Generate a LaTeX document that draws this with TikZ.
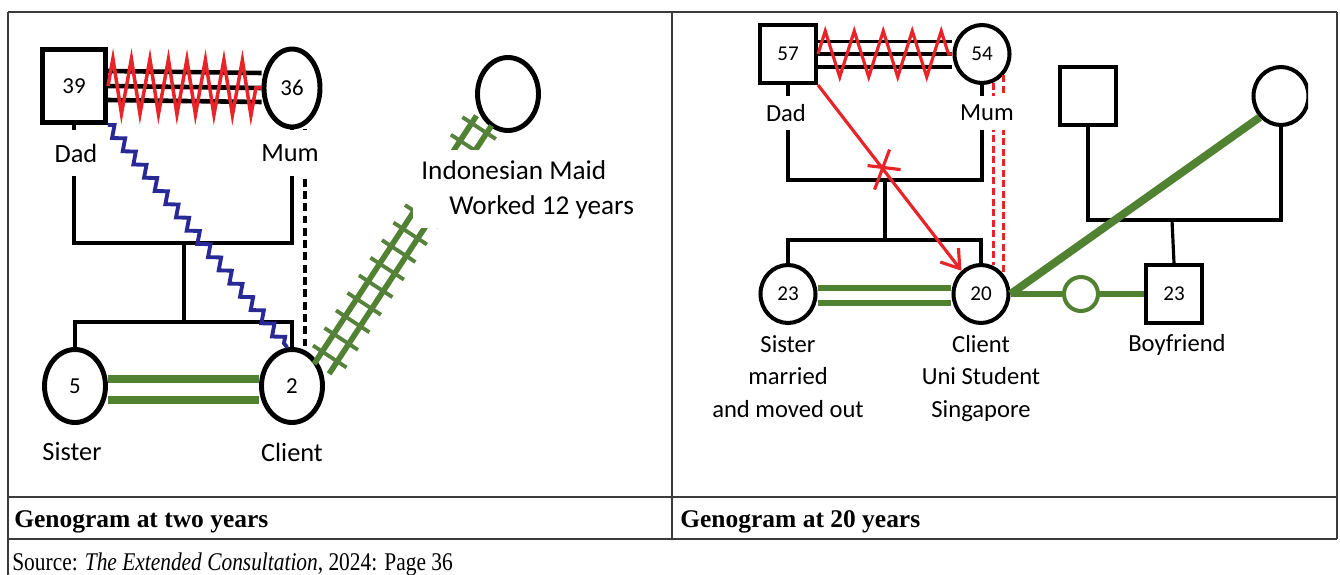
\documentclass[tikz,border=0pt]{standalone}
\usepackage{fontspec}
\setmainfont{Liberation Serif}
\newfontfamily\genofont{Carlito}
\newfontfamily\srcfont[FakeStretch=0.84]{Liberation Serif}
\usetikzlibrary{arrows.meta,shapes.geometric,decorations.pathmorphing,decorations.markings,calc}

\definecolor{genred}{RGB}{232,36,40}
\definecolor{gengreen}{RGB}{80,130,50}
\definecolor{genblue}{RGB}{40,40,150}
\definecolor{rulegray}{RGB}{60,60,60}

\begin{document}
\begin{tikzpicture}[x=0.02cm,y=-0.02cm,
    person/.style={draw,line width=2.8pt,fill=white,inner sep=0pt,
      font=\genofont\fontsize{13}{13}\selectfont},
    maleA/.style={person,rectangle,minimum width=1.26cm,minimum height=1.46cm},
    femA/.style={person,ellipse,minimum width=1.22cm,minimum height=1.46cm},
    maleB/.style={person,rectangle,line width=2.3pt,minimum width=1.12cm,minimum height=1.16cm,
      font=\genofont\fontsize{12}{12}\selectfont},
    femB/.style={person,ellipse,line width=2.3pt,minimum width=1.1cm,minimum height=1.16cm,
      font=\genofont\fontsize{12}{12}\selectfont},
    nameA/.style={fill=white,inner sep=1pt,minimum height=0.92cm,
      font=\genofont\fontsize{15}{18}\selectfont},
    nameB/.style={fill=white,inner sep=1pt,minimum height=0.7cm,align=center,
      font=\genofont\fontsize{14}{18.6}\selectfont},
    kinA/.style={line width=2.6pt},
    kinB/.style={line width=1.8pt},
    conflict/.style={genred,line width=2pt,decorate},
    rail/.style={gengreen,line width=3.2pt},
    rule/.style={rulegray,line width=0.85pt},
    caption/.style={anchor=base west,inner sep=0pt,font=\fontsize{14.5}{17}\selectfont\bfseries}]

    \useasboundingbox (0,0) rectangle (1340,575);

    % table frame
    \draw[rule] (8,12) -- (1337,12);
    \draw[rule] (8,12) -- (8,575);
    \draw[rule] (672,12) -- (672,539);
    \draw[rule] (1337,12) -- (1337,539);
    \draw[rule] (8,497) -- (1337,497);
    \draw[rule] (8,539) -- (1337,539);

    \node[caption] (capA) at (14,527) {Genogram at two years};
    \node[caption] (capB) at (680,527) {Genogram at 20 years};
    \node[anchor=base west,inner sep=0pt,font=\srcfont\fontsize{14.5}{17}\selectfont] (src) at (12,570)
      {Source: \textit{The Extended Consultation}, 2024: Page 36};

    % ---- genogram at two years ----
    \node[maleA] (dadA) at (74,86) {39};
    \node[femA,minimum width=1.12cm,minimum height=1.56cm] (mumA) at (292,88) {36};
    \node[femA] (maidA) at (508,94) {};
    \node[femA] (sisA) at (75,386) {5};
    \node[femA] (cliA) at (292,386) {2};
    \coordinate (parA) at (184,243);
    \coordinate (sibA) at (184,322);

    % marriage with conflict
    \draw[kinA] ([yshift=0.3cm]dadA.east) -- ([yshift=0.3cm]mumA.west);
    \draw[kinA] (dadA.east) -- (mumA.west);
    \draw[kinA] ([yshift=-0.28cm]dadA.east) -- ([yshift=-0.28cm]mumA.west);
    \draw[conflict,decoration={zigzag,amplitude=0.55cm,segment length=0.37cm}]
      (dadA.east) -- (mumA.west);

    % children
    \draw[kinA] (dadA.south) |- (parA) -| (mumA.south);
    \draw[kinA] (parA) -- (sibA);
    \draw[kinA] (sisA.north) |- (sibA) -| (cliA.north);

    % other ties
    \draw[line width=1.8pt,dash pattern=on 4.5pt off 2.5pt]
      ([xshift=0.26cm]mumA.south) -- ([xshift=0.26cm]cliA.north);
    \draw[genblue,line width=2.2pt,decorate,decoration={zigzag,amplitude=0.1cm,segment length=0.34cm}]
      (dadA.south east) -- (cliA.97);
    \draw[gengreen,line width=4pt] ([yshift=0.14cm]sisA.east) -- ([yshift=0.14cm]cliA.west);
    \draw[gengreen,line width=4pt] ([yshift=-0.28cm]sisA.east) -- ([yshift=-0.28cm]cliA.west);

    \coordinate (trkS) at (cliA.30);
    \coordinate (trkE) at (maidA.228);
    \draw[rail] ($(trkS)!0.18cm!90:(trkE)$) -- ($(trkE)!0.18cm!-90:(trkS)$);
    \draw[rail] ($(trkS)!0.18cm!-90:(trkE)$) -- ($(trkE)!0.18cm!90:(trkS)$);
    \path[postaction={decorate},decoration={markings,
        mark=between positions 0.05 and 1 step 0.42cm with
        {\draw[gengreen!85!gray,line width=2.2pt] (0,-0.4cm) -- (0,0.4cm);}}]
      (trkS) -- (trkE);

    % names
    \node[nameA] (lDadA) at (76,153) {Dad};
    \node[nameA] (lMumA) at (290,153) {Mum};
    \node[nameA,minimum height=0pt] (lSisA) at (72,452) {Sister};
    \node[nameA,minimum height=0pt] (lCliA) at (292,452) {Client};
    \node[anchor=north west,fill=white,align=left,inner xsep=0.16cm,inner ysep=0.2cm,
      font=\genofont\fontsize{15.5}{19.8}\selectfont] (lMaidA) at (413,150)
      {Indonesian Maid\\\hspace*{0.56cm}Worked 12 years};

    % ---- genogram at 20 years ----
    \node[maleB] (dadB) at (788,54) {57};
    \node[femB] (mumB) at (982,54) {54};
    \node[femB] (sisB) at (788,294) {23};
    \node[femB] (cliB) at (981,294) {20};
    \node[maleB] (bffB) at (1088,96) {};
    \begin{scope}
      \clip (0,0) rectangle (1308,575);
      \node[femB] (bfmB) at (1281,96) {};
    \end{scope}
    \node[maleB] (bfB) at (1174,294) {23};
    \node[draw=gengreen,line width=2.3pt,fill=white,circle,inner sep=0pt,minimum size=0.68cm]
      (knotB) at (1081,294) {};
    \coordinate (parB) at (885,180);
    \coordinate (sibB) at (885,240);
    \coordinate (parC) at (1172,220);

    % marriage with conflict
    \draw[kinB,line width=2.2pt] ([yshift=0.25cm]dadB.east) -- ([yshift=0.25cm]mumB.west);
    \draw[kinB,line width=2.2pt] (dadB.east) -- (mumB.west);
    \draw[kinB,line width=2.2pt] ([yshift=-0.26cm]dadB.east) -- ([yshift=-0.26cm]mumB.west);
    \draw[conflict,line width=1.8pt,decoration={zigzag,amplitude=0.46cm,segment length=0.58cm}]
      (dadB.east) -- (mumB.west);

    % children
    \draw[kinB] (dadB.south) |- (parB) -| (mumB.south);
    \draw[kinB] (parB) -- (sibB);
    \draw[kinB] (sisB.north) |- (sibB) -| (cliB.north);
    \draw[kinB] (bffB.south) |- (parC) -| (bfmB.south);
    \draw[kinB] (parC) -- (bfB.north);

    % other ties
    \draw[genred,line width=1.5pt,dash pattern=on 4pt off 2pt] (mumB.-68) -- (mumB.-68 |- cliB.68);
    \draw[genred,line width=1.5pt,dash pattern=on 4pt off 2pt] (mumB.-44) -- (mumB.-44 |- cliB.44);
    \draw[genred,line width=1.8pt,-{Straight Barb[length=0.34cm,width=0.46cm]}]
      (dadB.south east) -- coordinate[pos=0.45] (xB) (cliB.130);
    \draw[genred,line width=1.8pt] ([shift={(-15,-3)}]xB) -- ([shift={(18,1)}]xB);
    \draw[genred,line width=1.8pt] ([shift={(7,-19)}]xB) -- ([shift={(-8,21)}]xB);
    \draw[gengreen,line width=3.4pt] ([yshift=0.12cm]sisB.east) -- ([yshift=0.12cm]cliB.west);
    \draw[gengreen,line width=3.4pt] ([yshift=-0.18cm]sisB.east) -- ([yshift=-0.18cm]cliB.west);
    \draw[gengreen,line width=4.5pt] (cliB.east) -- (bfmB.225);
    \draw[gengreen,line width=3.4pt] (cliB.east) -- (knotB) -- (bfB.west);

    % names
    \node[nameB] (lDadB) at (786,113) {Dad};
    \node[nameB] (lMumB) at (987,113) {Mum};
    \node[nameB,anchor=north,minimum height=0pt] (lSisB) at (788,333) {Sister\\married\\and moved out};
    \node[nameB,anchor=north,minimum height=0pt] (lCliB) at (981,333) {Client\\Uni Student\\Singapore};
    \node[nameB,minimum height=0pt] (lBfB) at (1177,345) {Boyfriend};

\end{tikzpicture}
\end{document}
